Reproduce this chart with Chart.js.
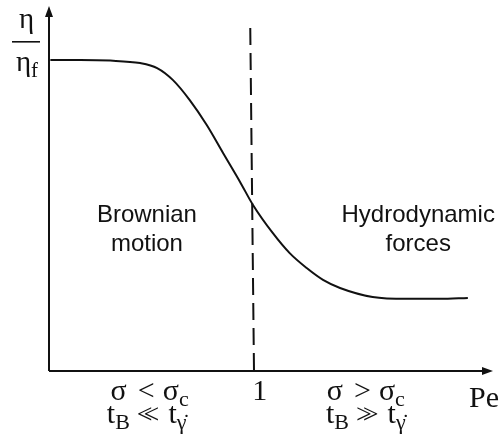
<!DOCTYPE html>
<html>
<head>
<meta charset="utf-8">
<script src="https://cdn.jsdelivr.net/npm/chart.js@4"></script>
<style>
  html, body { margin: 0; padding: 0; background: #fff; }
  #wrap { width: 504px; height: 439px; }
</style>
</head>
<body>
<div id="wrap"><canvas id="viscChart" width="504" height="439"></canvas></div>
<script>
// log10(Pe) along the x axis, relative viscosity eta/eta_f on y
const logPe = [-2.98, -2.54, -2.10, -1.66, -1.41, -1.18, -0.93, -0.68, -0.44, -0.19,
               0.0, 0.29, 0.54, 0.79, 1.03, 1.28, 1.76, 2.26, 2.75, 3.16];
const viscosity = [1.0, 1.0, 0.998, 0.99, 0.974, 0.936, 0.871, 0.791, 0.701, 0.608,
                   0.534, 0.444, 0.379, 0.331, 0.293, 0.267, 0.238, 0.232, 0.232, 0.235];

// Pe = 1 divider
const dividerX = [-0.04, 0.015];
const dividerY = [1.103, 0];

const xRange = [-3, 3.53];
const yRange = [0, 1.1736];

const regionLabels = [['Brownian', 'motion'], ['Hydrodynamic', 'forces']];
const peTick = '1';
const axisName = 'Pe';

const SERIF = '"Liberation Serif", "DejaVu Serif", serif';
const SANS = '"Liberation Sans", Arial, sans-serif';

// draws a run of text pieces (optionally subscripted / overlapped) centred on cx
function drawRow(ctx, parts, cx, base, size) {
  const fontOf = p => (p.sub ? Math.round(size * 0.72) : (p.size || size)) + 'px ' + SERIF;
  let w = 0;
  parts.forEach(p => {
    if (p.gap) { w += p.gap; return; }
    ctx.font = fontOf(p);
    w += ctx.measureText(p.t).width;
  });
  let x = cx - w / 2;
  parts.forEach(p => {
    if (p.gap) { x += p.gap; return; }
    ctx.font = fontOf(p);
    ctx.fillText(p.t, x, base + (p.sub ? Math.round(size * 0.2) : 0));
    x += ctx.measureText(p.t).width;
  });
}

const sketch = {
  id: 'sketch',
  afterDatasetsDraw(chart) {
    const ctx = chart.ctx;
    const a = chart.chartArea;
    const xs = chart.scales.x;
    ctx.save();
    ctx.strokeStyle = '#111';
    ctx.fillStyle = '#111';
    ctx.lineWidth = 2;

    // axes with arrow heads
    ctx.beginPath();
    ctx.moveTo(a.left, a.bottom);
    ctx.lineTo(a.left, a.top + 6);
    ctx.moveTo(a.left, a.bottom);
    ctx.lineTo(a.right - 6, a.bottom);
    ctx.stroke();
    ctx.beginPath();
    ctx.moveTo(a.left, a.top);
    ctx.lineTo(a.left - 4, a.top + 11);
    ctx.lineTo(a.left + 4, a.top + 11);
    ctx.closePath();
    ctx.fill();
    ctx.beginPath();
    ctx.moveTo(a.right, a.bottom);
    ctx.lineTo(a.right - 11, a.bottom - 4);
    ctx.lineTo(a.right - 11, a.bottom + 4);
    ctx.closePath();
    ctx.fill();

    // y axis label: eta / eta_f
    ctx.textAlign = 'center';
    ctx.textBaseline = 'alphabetic';
    ctx.font = '29px ' + SERIF;
    ctx.fillText('η', 26.5, 28);
    ctx.fillRect(12, 41, 28, 1.6);
    ctx.textAlign = 'left';
    drawRow(ctx, [{t: 'η'}, {t: 'f', sub: true}], 27, 71, 29);

    // region labels
    ctx.textAlign = 'center';
    ctx.font = '24px ' + SANS;
    const lx = xs.getPixelForValue(-1.56), rx = xs.getPixelForValue(2.43);
    ctx.fillText(regionLabels[0][0], lx, 222);
    ctx.fillText(regionLabels[0][1], lx, 251);
    ctx.fillText(regionLabels[1][0], rx, 222);
    ctx.fillText(regionLabels[1][1], rx, 251);

    // bottom annotations
    ctx.textAlign = 'left';
    const b = a.bottom;
    const c1 = xs.getPixelForValue(-1.52), c2 = xs.getPixelForValue(1.66);
    const ll = [{t: '<', size: 28}, {gap: -9}, {t: '<', size: 28}];
    const gg = [{t: '>', size: 28}, {gap: -9}, {t: '>', size: 28}];
    const tg = [{t: 't'}, {t: 'γ\u0307', sub: true}];
    drawRow(ctx, [{t: 'σ'}, {gap: 11}, {t: '<'}, {gap: 8}, {t: 'σ'}, {t: 'c', sub: true}], c1, b + 29, 30);
    drawRow(ctx, [{t: 't'}, {t: 'B', sub: true}, {gap: 7}].concat(ll, [{gap: 9}], tg), c1 - 3, b + 52, 30);
    drawRow(ctx, [{t: 'σ'}, {gap: 11}, {t: '>'}, {gap: 8}, {t: 'σ'}, {t: 'c', sub: true}], c2, b + 29, 30);
    drawRow(ctx, [{t: 't'}, {t: 'B', sub: true}, {gap: 7}].concat(gg, [{gap: 9}], tg), c2, b + 52, 30);
    ctx.font = '30px ' + SERIF;
    ctx.textAlign = 'center';
    ctx.fillText(peTick, xs.getPixelForValue(0.1), b + 29);
    ctx.textAlign = 'left';
    ctx.fillText(axisName, 469, b + 36);
    ctx.restore();
  }
};

const ctx = document.getElementById('viscChart').getContext('2d');
new Chart(ctx, {
  type: 'line',
  data: {
    datasets: [
      {
        label: 'eta/eta_f',
        data: logPe.map((x, i) => ({ x: x, y: viscosity[i] })),
        borderColor: '#111',
        borderWidth: 2,
        pointRadius: 0,
        tension: 0.4,
        cubicInterpolationMode: 'monotone',
        fill: false
      },
      {
        label: 'Pe = 1',
        data: dividerX.map((x, i) => ({ x: x, y: dividerY[i] })),
        borderColor: '#111',
        borderWidth: 2,
        borderDash: [17, 8],
        pointRadius: 0,
        fill: false
      }
    ]
  },
  options: {
    responsive: false,
    devicePixelRatio: 1,
    animation: false,
    layout: { padding: { left: 49, right: 11, top: 6, bottom: 68 } },
    plugins: { legend: { display: false }, tooltip: { enabled: false } },
    scales: {
      x: { type: 'linear', min: xRange[0], max: xRange[1], display: false },
      y: { type: 'linear', min: yRange[0], max: yRange[1], display: false }
    }
  },
  plugins: [sketch]
});
</script>
</body>
</html>
